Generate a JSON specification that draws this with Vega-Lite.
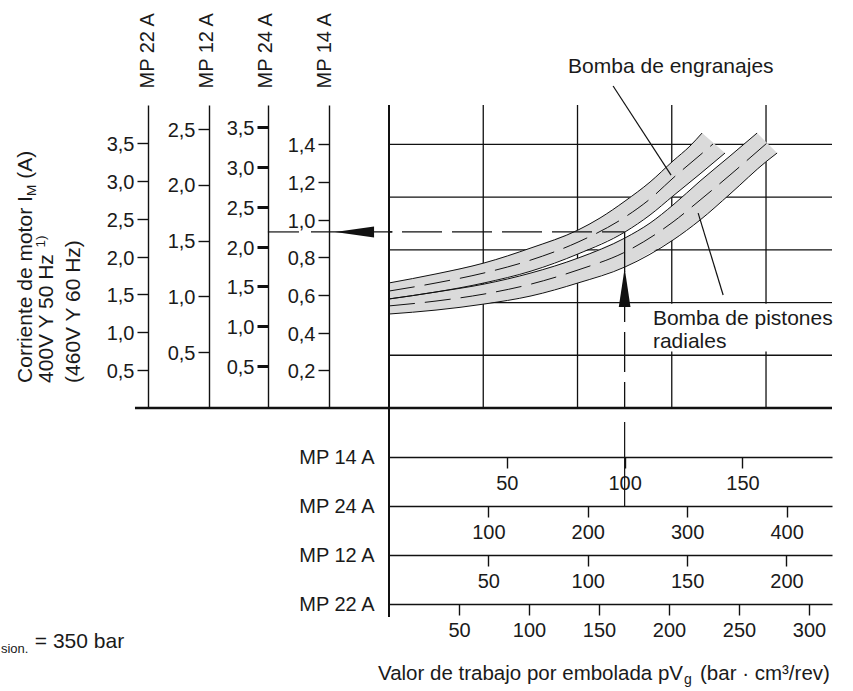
{
  "$schema": "https://vega.github.io/schema/vega-lite/v6.json",
  "width": 443,
  "height": 303,
  "autosize": {"type": "none"},
  "padding": {"left": 389, "top": 105, "right": 21, "bottom": 283},
  "background": "white",
  "config": {
    "view": {"stroke": null},
    "locale": {"number": {"decimal": ",", "thousands": ".", "grouping": [3], "currency": ["", " €"]}},
    "axis": {
      "domainColor": "#111", "domainWidth": 1.4, "tickColor": "#111", "tickWidth": 1.4, "tickSize": 11,
      "labelColor": "#1a1a1a", "labelFont": "Liberation Sans", "labelFontSize": 20, "labelFlush": false, "labelOverlap": false,
      "titleColor": "#1a1a1a", "titleFont": "Liberation Sans", "titleFontSize": 20, "titleFontWeight": "normal", "grid": false
    }
  },
  "resolve": {
    "scale": {"x": "independent", "y": "independent"},
    "axis": {"x": "independent", "y": "independent"}
  },
  "datasets": {
    "scaleValues": [
      {"motor": "MP 22 A", "axis": "I", "v": 0.5}, {"motor": "MP 22 A", "axis": "I", "v": 1.0}, {"motor": "MP 22 A", "axis": "I", "v": 1.5},
      {"motor": "MP 22 A", "axis": "I", "v": 2.0}, {"motor": "MP 22 A", "axis": "I", "v": 2.5}, {"motor": "MP 22 A", "axis": "I", "v": 3.0},
      {"motor": "MP 22 A", "axis": "I", "v": 3.5},
      {"motor": "MP 12 A", "axis": "I", "v": 0.5}, {"motor": "MP 12 A", "axis": "I", "v": 1.0}, {"motor": "MP 12 A", "axis": "I", "v": 1.5},
      {"motor": "MP 12 A", "axis": "I", "v": 2.0}, {"motor": "MP 12 A", "axis": "I", "v": 2.5},
      {"motor": "MP 24 A", "axis": "I", "v": 0.5}, {"motor": "MP 24 A", "axis": "I", "v": 1.0}, {"motor": "MP 24 A", "axis": "I", "v": 1.5},
      {"motor": "MP 24 A", "axis": "I", "v": 2.0}, {"motor": "MP 24 A", "axis": "I", "v": 2.5}, {"motor": "MP 24 A", "axis": "I", "v": 3.0},
      {"motor": "MP 24 A", "axis": "I", "v": 3.5},
      {"motor": "MP 14 A", "axis": "I", "v": 0.2}, {"motor": "MP 14 A", "axis": "I", "v": 0.4}, {"motor": "MP 14 A", "axis": "I", "v": 0.6},
      {"motor": "MP 14 A", "axis": "I", "v": 0.8}, {"motor": "MP 14 A", "axis": "I", "v": 1.0}, {"motor": "MP 14 A", "axis": "I", "v": 1.2},
      {"motor": "MP 14 A", "axis": "I", "v": 1.4},
      {"motor": "MP 14 A", "axis": "pVg", "v": 50}, {"motor": "MP 14 A", "axis": "pVg", "v": 100}, {"motor": "MP 14 A", "axis": "pVg", "v": 150},
      {"motor": "MP 24 A", "axis": "pVg", "v": 100}, {"motor": "MP 24 A", "axis": "pVg", "v": 200}, {"motor": "MP 24 A", "axis": "pVg", "v": 300},
      {"motor": "MP 24 A", "axis": "pVg", "v": 400},
      {"motor": "MP 12 A", "axis": "pVg", "v": 50}, {"motor": "MP 12 A", "axis": "pVg", "v": 100}, {"motor": "MP 12 A", "axis": "pVg", "v": 150},
      {"motor": "MP 12 A", "axis": "pVg", "v": 200},
      {"motor": "MP 22 A", "axis": "pVg", "v": 50}, {"motor": "MP 22 A", "axis": "pVg", "v": 100}, {"motor": "MP 22 A", "axis": "pVg", "v": 150},
      {"motor": "MP 22 A", "axis": "pVg", "v": 200}, {"motor": "MP 22 A", "axis": "pVg", "v": 250}, {"motor": "MP 22 A", "axis": "pVg", "v": 300}
    ],
    "grid": [
      {"dir": "v", "value": 40}, {"dir": "v", "value": 80}, {"dir": "v", "value": 120}, {"dir": "v", "value": 160},
      {"dir": "h", "value": 0.28}, {"dir": "h", "value": 0.56}, {"dir": "h", "value": 0.84}, {"dir": "h", "value": 1.12}, {"dir": "h", "value": 1.4}
    ],
    "bands": [
      {"band": "gear", "edge": "top", "k": 1, "pVg": 0, "I": 0.664},
      {"band": "gear", "edge": "top", "k": 2, "pVg": 19.95, "I": 0.712},
      {"band": "gear", "edge": "top", "k": 3, "pVg": 40.32, "I": 0.770},
      {"band": "gear", "edge": "top", "k": 4, "pVg": 60.27, "I": 0.850},
      {"band": "gear", "edge": "top", "k": 5, "pVg": 80.22, "I": 0.945},
      {"band": "gear", "edge": "top", "k": 6, "pVg": 89.56, "I": 1.009},
      {"band": "gear", "edge": "top", "k": 7, "pVg": 100.17, "I": 1.099},
      {"band": "gear", "edge": "top", "k": 8, "pVg": 110.78, "I": 1.200},
      {"band": "gear", "edge": "top", "k": 9, "pVg": 120.54, "I": 1.312},
      {"band": "gear", "edge": "top", "k": 10, "pVg": 127.72, "I": 1.391},
      {"band": "gear", "edge": "top", "k": 11, "pVg": 132.85, "I": 1.460},
      {"band": "gear", "edge": "bottom", "k": 12, "pVg": 142.6, "I": 1.354},
      {"band": "gear", "edge": "bottom", "k": 13, "pVg": 132.0, "I": 1.243},
      {"band": "gear", "edge": "bottom", "k": 14, "pVg": 120.54, "I": 1.126},
      {"band": "gear", "edge": "bottom", "k": 15, "pVg": 110.78, "I": 1.025},
      {"band": "gear", "edge": "bottom", "k": 16, "pVg": 100.17, "I": 0.935},
      {"band": "gear", "edge": "bottom", "k": 17, "pVg": 80.22, "I": 0.818},
      {"band": "gear", "edge": "bottom", "k": 18, "pVg": 60.27, "I": 0.727},
      {"band": "gear", "edge": "bottom", "k": 19, "pVg": 40.32, "I": 0.664},
      {"band": "gear", "edge": "bottom", "k": 20, "pVg": 19.95, "I": 0.616},
      {"band": "gear", "edge": "bottom", "k": 21, "pVg": 0, "I": 0.579},
      {"band": "piston", "edge": "top", "k": 1, "pVg": 0, "I": 0.579},
      {"band": "piston", "edge": "top", "k": 2, "pVg": 19.95, "I": 0.616},
      {"band": "piston", "edge": "top", "k": 3, "pVg": 40.32, "I": 0.658},
      {"band": "piston", "edge": "top", "k": 4, "pVg": 60.27, "I": 0.717},
      {"band": "piston", "edge": "top", "k": 5, "pVg": 80.22, "I": 0.796},
      {"band": "piston", "edge": "top", "k": 6, "pVg": 100.17, "I": 0.903},
      {"band": "piston", "edge": "top", "k": 7, "pVg": 110.78, "I": 0.982},
      {"band": "piston", "edge": "top", "k": 8, "pVg": 120.54, "I": 1.078},
      {"band": "piston", "edge": "top", "k": 9, "pVg": 132.0, "I": 1.205},
      {"band": "piston", "edge": "top", "k": 10, "pVg": 144.7, "I": 1.338},
      {"band": "piston", "edge": "top", "k": 11, "pVg": 156.2, "I": 1.460},
      {"band": "piston", "edge": "bottom", "k": 12, "pVg": 164.7, "I": 1.354},
      {"band": "piston", "edge": "bottom", "k": 13, "pVg": 160.4, "I": 1.312},
      {"band": "piston", "edge": "bottom", "k": 14, "pVg": 144.7, "I": 1.136},
      {"band": "piston", "edge": "bottom", "k": 15, "pVg": 132.0, "I": 0.998},
      {"band": "piston", "edge": "bottom", "k": 16, "pVg": 120.54, "I": 0.892},
      {"band": "piston", "edge": "bottom", "k": 17, "pVg": 100.17, "I": 0.749},
      {"band": "piston", "edge": "bottom", "k": 18, "pVg": 80.22, "I": 0.664},
      {"band": "piston", "edge": "bottom", "k": 19, "pVg": 60.27, "I": 0.595},
      {"band": "piston", "edge": "bottom", "k": 20, "pVg": 40.32, "I": 0.552},
      {"band": "piston", "edge": "bottom", "k": 21, "pVg": 19.95, "I": 0.520},
      {"band": "piston", "edge": "bottom", "k": 22, "pVg": 0, "I": 0.499},
      {"band": "gear", "edge": "center", "k": 0, "pVg": 0, "I": 0.621},
      {"band": "gear", "edge": "center", "k": 0, "pVg": 19.95, "I": 0.664},
      {"band": "gear", "edge": "center", "k": 0, "pVg": 40.32, "I": 0.717},
      {"band": "gear", "edge": "center", "k": 0, "pVg": 60.27, "I": 0.786},
      {"band": "gear", "edge": "center", "k": 0, "pVg": 80.22, "I": 0.881},
      {"band": "gear", "edge": "center", "k": 0, "pVg": 100.17, "I": 1.014},
      {"band": "gear", "edge": "center", "k": 0, "pVg": 110.78, "I": 1.110},
      {"band": "gear", "edge": "center", "k": 0, "pVg": 120.54, "I": 1.221},
      {"band": "gear", "edge": "center", "k": 0, "pVg": 132.0, "I": 1.343},
      {"band": "gear", "edge": "center", "k": 0, "pVg": 137.5, "I": 1.402},
      {"band": "piston", "edge": "center", "k": 0, "pVg": 0, "I": 0.542},
      {"band": "piston", "edge": "center", "k": 0, "pVg": 19.95, "I": 0.568},
      {"band": "piston", "edge": "center", "k": 0, "pVg": 40.32, "I": 0.605},
      {"band": "piston", "edge": "center", "k": 0, "pVg": 60.27, "I": 0.658},
      {"band": "piston", "edge": "center", "k": 0, "pVg": 80.22, "I": 0.733},
      {"band": "piston", "edge": "center", "k": 0, "pVg": 100.17, "I": 0.828},
      {"band": "piston", "edge": "center", "k": 0, "pVg": 120.54, "I": 0.988},
      {"band": "piston", "edge": "center", "k": 0, "pVg": 132.0, "I": 1.104},
      {"band": "piston", "edge": "center", "k": 0, "pVg": 144.7, "I": 1.237},
      {"band": "piston", "edge": "center", "k": 0, "pVg": 160.4, "I": 1.407}
    ],
    "annot": [
      {"kind": "frameH", "pVg": -107.8, "I": 0, "pVg2": 188, "I2": 0},
      {"kind": "frameV", "pVg": 0, "I": -1.11, "pVg2": 0, "I2": 1.609},
      {"kind": "solid", "pVg": -51.4, "I": 0.935, "pVg2": -38.2, "I2": 0.935},
      {"kind": "solid", "pVg": -33.1, "I": 0.935, "pVg2": 1.5, "I2": 0.935},
      {"kind": "solid", "pVg": 100, "I": -0.074, "pVg2": 100, "I2": -0.52},
      {"kind": "dashH", "pVg": 0, "I": 0.935, "pVg2": 100, "I2": 0.935},
      {"kind": "dashV", "pVg": 100, "I": 0.935, "pVg2": 100, "I2": 0},
      {"kind": "leader", "pVg": 95.1, "I": 1.71, "pVg2": 119.7, "I2": 1.237},
      {"kind": "leader", "pVg": 141.8, "I": 0.6, "pVg2": 131.2, "I2": 1.035},
      {"kind": "box", "pVg": 110.5, "I": 0.3, "pVg2": 188, "I2": 0.553},
      {"kind": "arrowL", "pVg": -22.9, "I": 0.935},
      {"kind": "arrowU", "pVg": 100, "I": 0.743}
    ],
    "texts": [
      {"role": "label", "text": "Bomba de engranajes", "pVg": 76.0, "I": 1.779},
      {"role": "label", "text": "Bomba de pistones", "pVg": 112.0, "I": 0.441},
      {"role": "label", "text": "radiales", "pVg": 112.0, "I": 0.319},
      {"role": "xtitle", "text": "Valor de trabajo por embolada pV", "pVg": -4.67, "I": -1.444},
      {"role": "sub", "text": "g", "pVg": 125.2, "I": -1.465},
      {"role": "xtitle", "text": "(bar · cm³/rev)", "pVg": 132.0, "I": -1.444},
      {"role": "label", "text": "= 350 bar", "pVg": -150.3, "I": -1.274},
      {"role": "subL", "text": "sion.", "pVg": -164.7, "I": -1.301},
      {"role": "vlabel", "text": "Corriente de motor I", "pVg": -151.7, "I": 0.133},
      {"role": "vsub", "text": "M", "pVg": -150.0, "I": 1.126},
      {"role": "vlabel", "text": "(A)", "pVg": -151.7, "I": 1.217},
      {"role": "vlabel", "text": "400V Y 50 Hz", "pVg": -142.8, "I": 0.133},
      {"role": "vsub", "text": "1)", "pVg": -146.1, "I": 0.852},
      {"role": "vlabel", "text": "(460V Y 60 Hz)", "pVg": -131.1, "I": 0.133}
    ]
  },
  "layer": [
    {
      "data": {"name": "scaleValues"},
      "transform": [{"filter": "datum.motor == 'MP 22 A' && datum.axis == 'I'"}],
      "mark": {"type": "point", "opacity": 0},
      "encoding": {"y": {"field": "v", "type": "quantitative", "scale": {"domain": [0, 4.004], "nice": false, "zero": false},
        "axis": {"orient": "left", "offset": 241, "values": [0.5, 1, 1.5, 2, 2.5, 3, 3.5], "format": ".1f", "labelPadding": 3, "labelOffset": 1.5,
          "title": "MP 22 A", "titleAngle": 270, "titleX": -1, "titleY": -17, "titleAlign": "left", "titleBaseline": "middle"}}}
    },
    {
      "data": {"name": "scaleValues"},
      "transform": [{"filter": "datum.motor == 'MP 12 A' && datum.axis == 'I'"}],
      "mark": {"type": "point", "opacity": 0},
      "encoding": {"y": {"field": "v", "type": "quantitative", "scale": {"domain": [0, 2.717], "nice": false, "zero": false},
        "axis": {"orient": "left", "offset": 180, "values": [0.5, 1, 1.5, 2, 2.5], "format": ".1f", "labelPadding": 3, "labelOffset": 1,
          "title": "MP 12 A", "titleAngle": 270, "titleX": -3, "titleY": -17, "titleAlign": "left", "titleBaseline": "middle"}}}
    },
    {
      "data": {"name": "scaleValues"},
      "transform": [{"filter": "datum.motor == 'MP 24 A' && datum.axis == 'I'"}],
      "mark": {"type": "point", "opacity": 0},
      "encoding": {"y": {"field": "v", "type": "quantitative", "scale": {"domain": [-0.027, 3.776], "nice": false, "zero": false},
        "axis": {"orient": "left", "offset": 121, "values": [0.5, 1, 1.5, 2, 2.5, 3, 3.5], "format": ".1f", "labelPadding": 3, "labelOffset": 1.5, "tickWidth": 3,
          "title": "MP 24 A", "titleAngle": 270, "titleX": -3, "titleY": -17, "titleAlign": "left", "titleBaseline": "middle"}}}
    },
    {
      "data": {"name": "scaleValues"},
      "transform": [{"filter": "datum.motor == 'MP 14 A' && datum.axis == 'I'"}],
      "mark": {"type": "point", "opacity": 0},
      "encoding": {"y": {"field": "v", "type": "quantitative", "scale": {"domain": [0, 1.609], "nice": false, "zero": false},
        "axis": {"orient": "left", "offset": 60, "values": [0.2, 0.4, 0.6, 0.8, 1.0, 1.2, 1.4], "format": ".1f", "labelPadding": 3, "labelOffset": 1.5,
          "title": "MP 14 A", "titleAngle": 270, "titleX": -5, "titleY": -17, "titleAlign": "left", "titleBaseline": "middle"}}}
    },
    {
      "data": {"name": "scaleValues"},
      "transform": [{"filter": "datum.motor == 'MP 14 A' && datum.axis == 'pVg'"}],
      "mark": {"type": "point", "opacity": 0},
      "encoding": {"x": {"field": "v", "type": "quantitative", "scale": {"domain": [0, 188.0], "nice": false, "zero": false},
        "axis": {"orient": "bottom", "offset": 49, "values": [50, 100, 150], "labelPadding": 5,
          "title": "MP 14 A", "titleAngle": 0, "titleX": -15, "titleY": 0, "titleAlign": "right", "titleBaseline": "middle"}}}
    },
    {
      "data": {"name": "scaleValues"},
      "transform": [{"filter": "datum.motor == 'MP 24 A' && datum.axis == 'pVg'"}],
      "mark": {"type": "point", "opacity": 0},
      "encoding": {"x": {"field": "v", "type": "quantitative", "scale": {"domain": [0, 445.7], "nice": false, "zero": false},
        "axis": {"orient": "bottom", "offset": 98, "values": [100, 200, 300, 400], "labelPadding": 5,
          "title": "MP 24 A", "titleAngle": 0, "titleX": -15, "titleY": 0, "titleAlign": "right", "titleBaseline": "middle"}}}
    },
    {
      "data": {"name": "scaleValues"},
      "transform": [{"filter": "datum.motor == 'MP 12 A' && datum.axis == 'pVg'"}],
      "mark": {"type": "point", "opacity": 0},
      "encoding": {"x": {"field": "v", "type": "quantitative", "scale": {"domain": [0, 222.9], "nice": false, "zero": false},
        "axis": {"orient": "bottom", "offset": 147, "values": [50, 100, 150, 200], "labelPadding": 5,
          "title": "MP 12 A", "titleAngle": 0, "titleX": -15, "titleY": 0, "titleAlign": "right", "titleBaseline": "middle"}}}
    },
    {
      "data": {"name": "scaleValues"},
      "transform": [{"filter": "datum.motor == 'MP 22 A' && datum.axis == 'pVg'"}],
      "mark": {"type": "point", "opacity": 0},
      "encoding": {"x": {"field": "v", "type": "quantitative", "scale": {"domain": [0, 316.4], "nice": false, "zero": false},
        "axis": {"orient": "bottom", "offset": 196, "values": [50, 100, 150, 200, 250, 300], "labelPadding": 5,
          "title": "MP 22 A", "titleAngle": 0, "titleX": -15, "titleY": 0, "titleAlign": "right", "titleBaseline": "middle"}}}
    },
    {
      "layer": [
        {
          "data": {"name": "grid"},
          "transform": [{"filter": "datum.dir == 'v'"}],
          "mark": {"type": "rule", "color": "#111", "strokeWidth": 1.3},
          "encoding": {"x": {"field": "value", "type": "quantitative", "scale": {"domain": [0, 188.0], "nice": false, "zero": false}, "axis": null}}
        },
        {
          "data": {"name": "grid"},
          "transform": [{"filter": "datum.dir == 'h'"}],
          "mark": {"type": "rule", "color": "#111", "strokeWidth": 1.3},
          "encoding": {"y": {"field": "value", "type": "quantitative", "scale": {"domain": [0, 1.609], "nice": false, "zero": false}, "axis": null}}
        },
        {
          "data": {"name": "bands"},
          "transform": [{"filter": "datum.edge != 'center'"}],
          "mark": {"type": "line", "fill": "#dadada", "strokeOpacity": 0, "interpolate": "linear"},
          "encoding": {
            "x": {"field": "pVg", "type": "quantitative", "scale": {"domain": [0, 188.0], "nice": false, "zero": false}, "axis": null},
            "y": {"field": "I", "type": "quantitative", "scale": {"domain": [0, 1.609], "nice": false, "zero": false}, "axis": null},
            "detail": {"field": "band"},
            "order": {"field": "k", "type": "quantitative"}
          }
        },
        {
          "data": {"name": "bands"},
          "transform": [{"filter": "datum.edge != 'center'"}],
          "mark": {"type": "line", "color": "#111", "strokeWidth": 1, "interpolate": "monotone"},
          "encoding": {
            "x": {"field": "pVg", "type": "quantitative", "scale": {"domain": [0, 188.0], "nice": false, "zero": false}, "axis": null},
            "y": {"field": "I", "type": "quantitative", "scale": {"domain": [0, 1.609], "nice": false, "zero": false}, "axis": null},
            "detail": [{"field": "band"}, {"field": "edge"}]
          }
        },
        {
          "data": {"name": "bands"},
          "transform": [{"filter": "datum.edge == 'center'"}],
          "mark": {"type": "line", "color": "#111", "strokeWidth": 1, "strokeDash": [26, 10], "interpolate": "monotone"},
          "encoding": {
            "x": {"field": "pVg", "type": "quantitative", "scale": {"domain": [0, 188.0], "nice": false, "zero": false}, "axis": null},
            "y": {"field": "I", "type": "quantitative", "scale": {"domain": [0, 1.609], "nice": false, "zero": false}, "axis": null},
            "detail": {"field": "band"}
          }
        },
        {
          "data": {"name": "annot"},
          "transform": [{"filter": "datum.kind == 'box'"}],
          "mark": {"type": "rect", "color": "white"},
          "encoding": {
            "x": {"field": "pVg", "type": "quantitative", "scale": {"domain": [0, 188.0], "nice": false, "zero": false}, "axis": null},
            "x2": {"field": "pVg2"},
            "y": {"field": "I", "type": "quantitative", "scale": {"domain": [0, 1.609], "nice": false, "zero": false}, "axis": null},
            "y2": {"field": "I2"}
          }
        },
        {
          "data": {"name": "annot"},
          "transform": [{"filter": "datum.kind == 'frameH'"}],
          "mark": {"type": "rule", "color": "#111", "strokeWidth": 2.6},
          "encoding": {
            "x": {"field": "pVg", "type": "quantitative", "scale": {"domain": [0, 188.0], "nice": false, "zero": false}, "axis": null},
            "x2": {"field": "pVg2"},
            "y": {"field": "I", "type": "quantitative", "scale": {"domain": [0, 1.609], "nice": false, "zero": false}, "axis": null},
            "y2": {"field": "I2"}
          }
        },
        {
          "data": {"name": "annot"},
          "transform": [{"filter": "datum.kind == 'frameV'"}],
          "mark": {"type": "rule", "color": "#111", "strokeWidth": 2},
          "encoding": {
            "x": {"field": "pVg", "type": "quantitative", "scale": {"domain": [0, 188.0], "nice": false, "zero": false}, "axis": null},
            "x2": {"field": "pVg2"},
            "y": {"field": "I", "type": "quantitative", "scale": {"domain": [0, 1.609], "nice": false, "zero": false}, "axis": null},
            "y2": {"field": "I2"}
          }
        },
        {
          "data": {"name": "annot"},
          "transform": [{"filter": "datum.kind == 'solid' || datum.kind == 'leader'"}],
          "mark": {"type": "rule", "color": "#111", "strokeWidth": 1.2},
          "encoding": {
            "x": {"field": "pVg", "type": "quantitative", "scale": {"domain": [0, 188.0], "nice": false, "zero": false}, "axis": null},
            "x2": {"field": "pVg2"},
            "y": {"field": "I", "type": "quantitative", "scale": {"domain": [0, 1.609], "nice": false, "zero": false}, "axis": null},
            "y2": {"field": "I2"}
          }
        },
        {
          "data": {"name": "annot"},
          "transform": [{"filter": "datum.kind == 'dashH'"}],
          "mark": {"type": "rule", "color": "#111", "strokeWidth": 1.3, "strokeDash": [40, 10], "strokeDashOffset": 37},
          "encoding": {
            "x": {"field": "pVg", "type": "quantitative", "scale": {"domain": [0, 188.0], "nice": false, "zero": false}, "axis": null},
            "x2": {"field": "pVg2"},
            "y": {"field": "I", "type": "quantitative", "scale": {"domain": [0, 1.609], "nice": false, "zero": false}, "axis": null},
            "y2": {"field": "I2"}
          }
        },
        {
          "data": {"name": "annot"},
          "transform": [{"filter": "datum.kind == 'dashV'"}],
          "mark": {"type": "rule", "color": "#111", "strokeWidth": 1.3, "strokeDash": [40, 10]},
          "encoding": {
            "x": {"field": "pVg", "type": "quantitative", "scale": {"domain": [0, 188.0], "nice": false, "zero": false}, "axis": null},
            "x2": {"field": "pVg2"},
            "y": {"field": "I", "type": "quantitative", "scale": {"domain": [0, 1.609], "nice": false, "zero": false}, "axis": null},
            "y2": {"field": "I2"}
          }
        },
        {
          "data": {"name": "annot"},
          "transform": [{"filter": "datum.kind == 'arrowL'"}],
          "mark": {"type": "point", "shape": "M0,0L2,-0.28L2,0.28Z", "size": 1521, "filled": true, "color": "#111", "opacity": 1},
          "encoding": {
            "x": {"field": "pVg", "type": "quantitative", "scale": {"domain": [0, 188.0], "nice": false, "zero": false}, "axis": null},
            "y": {"field": "I", "type": "quantitative", "scale": {"domain": [0, 1.609], "nice": false, "zero": false}, "axis": null}
          }
        },
        {
          "data": {"name": "annot"},
          "transform": [{"filter": "datum.kind == 'arrowU'"}],
          "mark": {"type": "point", "shape": "M0,0L-0.3,2L0.3,2Z", "size": 1521, "filled": true, "color": "#111", "opacity": 1},
          "encoding": {
            "x": {"field": "pVg", "type": "quantitative", "scale": {"domain": [0, 188.0], "nice": false, "zero": false}, "axis": null},
            "y": {"field": "I", "type": "quantitative", "scale": {"domain": [0, 1.609], "nice": false, "zero": false}, "axis": null}
          }
        },
        {
          "data": {"name": "texts"},
          "transform": [{"filter": "datum.role == 'label'"}],
          "mark": {"type": "text", "font": "Liberation Sans", "fontSize": 21, "align": "left", "baseline": "alphabetic", "color": "#1a1a1a"},
          "encoding": {
            "x": {"field": "pVg", "type": "quantitative", "scale": {"domain": [0, 188.0], "nice": false, "zero": false}, "axis": null},
            "y": {"field": "I", "type": "quantitative", "scale": {"domain": [0, 1.609], "nice": false, "zero": false}, "axis": null},
            "text": {"field": "text"}
          }
        },
        {
          "data": {"name": "texts"},
          "transform": [{"filter": "datum.role == 'xtitle'"}],
          "mark": {"type": "text", "font": "Liberation Sans", "fontSize": 20.5, "align": "left", "baseline": "alphabetic", "color": "#1a1a1a"},
          "encoding": {
            "x": {"field": "pVg", "type": "quantitative", "scale": {"domain": [0, 188.0], "nice": false, "zero": false}, "axis": null},
            "y": {"field": "I", "type": "quantitative", "scale": {"domain": [0, 1.609], "nice": false, "zero": false}, "axis": null},
            "text": {"field": "text"}
          }
        },
        {
          "data": {"name": "texts"},
          "transform": [{"filter": "datum.role == 'sub'"}],
          "mark": {"type": "text", "font": "Liberation Sans", "fontSize": 14, "align": "left", "baseline": "alphabetic", "color": "#1a1a1a"},
          "encoding": {
            "x": {"field": "pVg", "type": "quantitative", "scale": {"domain": [0, 188.0], "nice": false, "zero": false}, "axis": null},
            "y": {"field": "I", "type": "quantitative", "scale": {"domain": [0, 1.609], "nice": false, "zero": false}, "axis": null},
            "text": {"field": "text"}
          }
        },
        {
          "data": {"name": "texts"},
          "transform": [{"filter": "datum.role == 'subL'"}],
          "mark": {"type": "text", "font": "Liberation Sans", "fontSize": 13, "align": "left", "baseline": "alphabetic", "color": "#1a1a1a"},
          "encoding": {
            "x": {"field": "pVg", "type": "quantitative", "scale": {"domain": [0, 188.0], "nice": false, "zero": false}, "axis": null},
            "y": {"field": "I", "type": "quantitative", "scale": {"domain": [0, 1.609], "nice": false, "zero": false}, "axis": null},
            "text": {"field": "text"}
          }
        },
        {
          "data": {"name": "texts"},
          "transform": [{"filter": "datum.role == 'vlabel'"}],
          "mark": {"type": "text", "font": "Liberation Sans", "fontSize": 21, "align": "left", "baseline": "alphabetic", "angle": 270, "color": "#1a1a1a"},
          "encoding": {
            "x": {"field": "pVg", "type": "quantitative", "scale": {"domain": [0, 188.0], "nice": false, "zero": false}, "axis": null},
            "y": {"field": "I", "type": "quantitative", "scale": {"domain": [0, 1.609], "nice": false, "zero": false}, "axis": null},
            "text": {"field": "text"}
          }
        },
        {
          "data": {"name": "texts"},
          "transform": [{"filter": "datum.role == 'vsub'"}],
          "mark": {"type": "text", "font": "Liberation Sans", "fontSize": 13.5, "align": "left", "baseline": "alphabetic", "angle": 270, "color": "#1a1a1a"},
          "encoding": {
            "x": {"field": "pVg", "type": "quantitative", "scale": {"domain": [0, 188.0], "nice": false, "zero": false}, "axis": null},
            "y": {"field": "I", "type": "quantitative", "scale": {"domain": [0, 1.609], "nice": false, "zero": false}, "axis": null},
            "text": {"field": "text"}
          }
        }
      ]
    }
  ]
}
